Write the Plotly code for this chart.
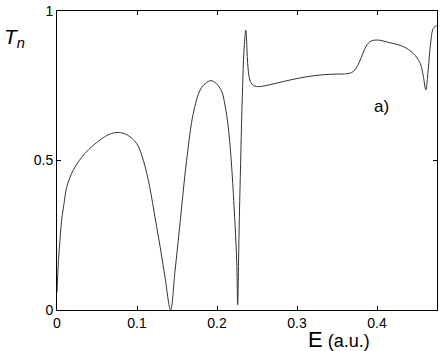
import plotly.graph_objs as go

# transmission curve
energy = [0.0, 0.0015, 0.003, 0.0058, 0.009, 0.012, 0.0204, 0.035, 0.054, 0.065, 0.0767,
          0.088, 0.0996, 0.108, 0.116, 0.1225, 0.129, 0.135, 0.142,
          0.1475, 0.153, 0.162, 0.1704, 0.179, 0.1855, 0.1925, 0.199, 0.206,
          0.210, 0.214, 0.2175, 0.2204, 0.2246, 0.2258,
          0.2275, 0.2288, 0.232, 0.234, 0.236, 0.2375, 0.2383, 0.241, 0.2445,
          0.2475, 0.2517, 0.260, 0.270, 0.291, 0.312, 0.333, 0.350, 0.362,
          0.368, 0.3725, 0.379, 0.385, 0.391, 0.3996, 0.416, 0.433, 0.4454,
          0.454, 0.458, 0.461, 0.464, 0.467, 0.4704, 0.4738, 0.475]
trans = [0.06, 0.15, 0.21, 0.30, 0.36, 0.41, 0.468, 0.524, 0.569, 0.587, 0.594,
         0.585, 0.557, 0.50, 0.41, 0.31, 0.21, 0.11, 0.0,
         0.13, 0.27, 0.50, 0.658, 0.736, 0.758, 0.767, 0.758, 0.73,
         0.685, 0.613, 0.51, 0.39, 0.167, 0.017,
         0.25, 0.41, 0.747, 0.88, 0.936, 0.87, 0.825, 0.77, 0.753,
         0.749, 0.747, 0.750, 0.756, 0.769, 0.780, 0.787, 0.789, 0.790,
         0.794, 0.803, 0.836, 0.875, 0.897, 0.903, 0.894, 0.881, 0.858,
         0.825, 0.78, 0.736, 0.803, 0.892, 0.942, 0.95, 0.95]

x_ticks = [0, 0.1, 0.2, 0.3, 0.4]
x_labels = ['0', '0.1', '0.2', '0.3', '0.4']
y_ticks = [0, 0.5, 1]
y_labels = ['0', '0.5', '1']

fig = go.Figure()
fig.add_trace(go.Scatter(
    x=energy, y=trans, mode='lines',
    line=dict(color='#333333', width=1, shape='spline', smoothing=1.0),
    showlegend=False
))

axis_style = dict(
    showline=True, linecolor='black', linewidth=1, mirror='ticks',
    ticks='inside', ticklen=4, tickcolor='black', showgrid=False,
    zeroline=False, tickfont=dict(family='Liberation Sans, Arial', size=14, color='black')
)

fig.update_layout(
    width=440, height=351,
    margin=dict(l=57, r=3, t=11, b=41),
    plot_bgcolor='white', paper_bgcolor='white',
    xaxis=dict(range=[0, 0.475], tickvals=x_ticks, ticktext=x_labels, **axis_style),
    yaxis=dict(range=[0, 1], tickvals=y_ticks, ticktext=y_labels, **axis_style),
    annotations=[
        dict(text='<i>T</i><sub><i>n</i></sub>', x=-0.145, y=0.96, xref='paper', yref='paper',
             showarrow=False, font=dict(family='Liberation Sans, Arial', size=21, color='black')),
        dict(text="<span style='font-size:22px'>E</span> (a.u.)", x=0.655, y=-0.097,
             xref='paper', yref='paper', xanchor='left', yanchor='middle', showarrow=False,
             font=dict(family='Liberation Sans, Arial', size=18, color='black')),
        dict(text='a)', x=0.88, y=0.72, xref='paper', yref='paper', showarrow=False,
             font=dict(family='Liberation Sans, Arial', size=17, color='black')),
    ]
)

# drop the default page margin so the figure sits at the window's corner
fig.write_html("out.html", config={'displayModeBar': False},
               post_script="document.body.style.margin='0';")
